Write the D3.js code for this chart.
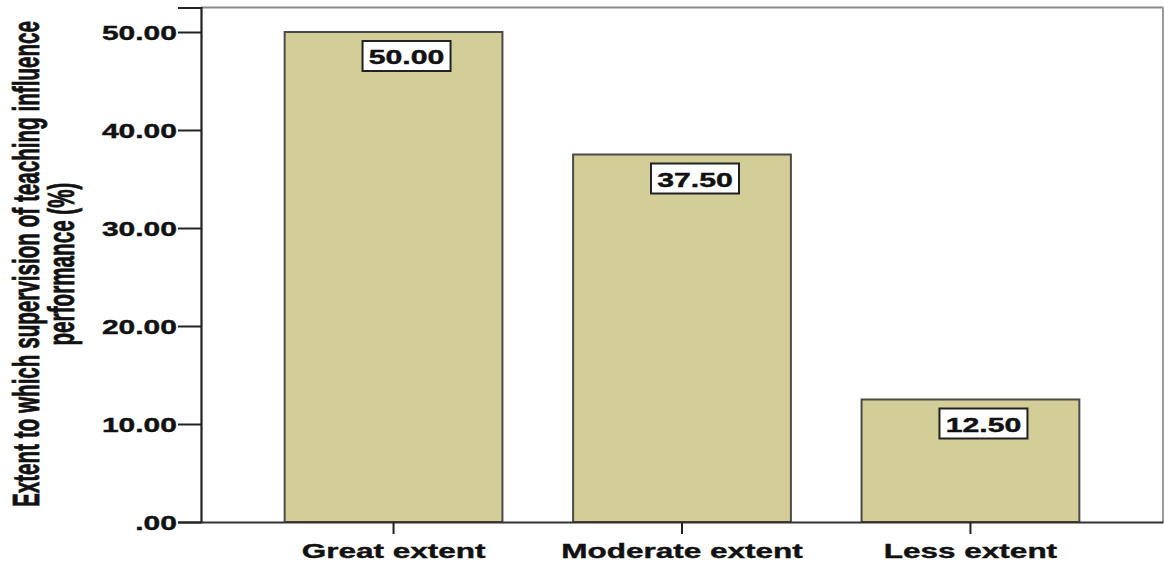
<!DOCTYPE html>
<html>
<head>
<meta charset="utf-8">
<script src="https://cdn.jsdelivr.net/npm/d3@7"></script>
<style>
  html, body { margin: 0; padding: 0; background: #fff; }
  svg { display: block; }
  text { font-family: "Liberation Sans", Arial, sans-serif; font-weight: bold; fill: #111; }
</style>
</head>
<body>
<svg id="chart" width="1164" height="561"></svg>
<script>
// ---- data ----
const categories = ["Great extent", "Moderate extent", "Less extent"];
const values = [50.00, 37.50, 12.50];
const yTicks = [0, 10, 20, 30, 40, 50];
const yTitleLines = ["Extent to which supervision of teaching influence", "performance (%)"];

// ---- layout ----
const W = 1164, H = 561;
const plot = { left: 201, right: 1163, top: 7.5, bottom: 522 };
const STRETCH = 1.5; // horizontal stretch of the reference rendering

const svg = d3.select("#chart");

const x = d3.scaleBand()
  .domain(categories)
  .range([plot.left, plot.right])
  .paddingInner(0.245)
  .paddingOuter(0.29);

const y = d3.scaleLinear().domain([0, 52.5]).range([plot.bottom, plot.top]);

const fmt = v => d3.format(".2f")(v).replace(/^0\./, ".");

function stretchText(sel, f) {
  sel.each(function () {
    const n = this.getComputedTextLength();
    d3.select(this).attr("textLength", n * f).attr("lengthAdjust", "spacingAndGlyphs");
  });
}

// frame (top and right in gray)
svg.append("line").attr("x1", plot.left).attr("x2", plot.right).attr("y1", plot.top).attr("y2", plot.top)
  .attr("stroke", "#8a8a8a").attr("stroke-width", 2);
svg.append("line").attr("x1", plot.right).attr("x2", plot.right).attr("y1", plot.top).attr("y2", plot.bottom)
  .attr("stroke", "#9a9a9a").attr("stroke-width", 2);

// bars
svg.append("g").selectAll("rect")
  .data(values)
  .join("rect")
  .attr("x", (d, i) => x(categories[i]))
  .attr("y", d => y(d))
  .attr("width", x.bandwidth())
  .attr("height", d => y(0) - y(d))
  .attr("fill", "#d3cd98")
  .attr("stroke", "#4a4a44")
  .attr("stroke-width", 2);

// y axis
const gy = svg.append("g")
  .attr("transform", `translate(${plot.left},0)`)
  .call(d3.axisLeft(y).tickValues(yTicks).tickFormat(fmt).tickSize(23).tickPadding(1));
gy.select(".domain").attr("stroke", "#222").attr("stroke-width", 2.2);
gy.selectAll(".tick line").attr("stroke", "#222").attr("stroke-width", 2);
gy.selectAll(".tick text")
  .attr("font-size", 20).attr("font-family", "Liberation Sans, Arial, sans-serif")
  .attr("font-weight", "bold").attr("fill", "#111").attr("dy", "0.36em")
  .attr("stroke", "#111").attr("stroke-width", 0.4)
  .call(stretchText, STRETCH);

// x axis
const gx = svg.append("g")
  .attr("transform", `translate(0,${plot.bottom})`)
  .call(d3.axisBottom(x).tickSize(12).tickPadding(20).tickSizeOuter(0));
gx.select(".domain").attr("stroke", "#333").attr("stroke-width", 2);
gx.selectAll(".tick line").attr("stroke", "#222").attr("stroke-width", 2);
gx.selectAll(".tick text")
  .attr("font-size", 21).attr("font-family", "Liberation Sans, Arial, sans-serif")
  .attr("font-weight", "bold").attr("fill", "#111").attr("dy", "0.2em")
  .attr("stroke", "#111").attr("stroke-width", 0.4)
  .call(stretchText, STRETCH);

// value labels in boxes
const labG = svg.append("g").selectAll("g")
  .data(values)
  .join("g")
  .attr("transform", (d, i) => `translate(${x(categories[i]) + x.bandwidth() / 2 + 13},${y(d) + 9})`);
labG.append("rect")
  .attr("x", -44).attr("y", 0).attr("width", 88).attr("height", 30)
  .attr("fill", "#fff").attr("stroke", "#222").attr("stroke-width", 2);
labG.append("text")
  .attr("x", 0).attr("y", 23)
  .attr("text-anchor", "middle")
  .attr("font-size", 19.5)
  .attr("stroke", "#111").attr("stroke-width", 0.4)
  .text(d => d3.format(".2f")(d))
  .call(stretchText, 1.55);

// y axis title (rotated, condensed: glyph height stretched by a scale)
const titleLengths = [486, 163];
const titleBaselines = [39, 74];
yTitleLines.forEach((t, i) => {
  svg.append("text")
    .attr("transform", `translate(${titleBaselines[i]},264) rotate(-90) scale(1,1.8)`)
    .attr("text-anchor", "middle")
    .attr("font-size", 20)
    .attr("stroke", "#111").attr("stroke-width", 0.45)
    .attr("textLength", titleLengths[i])
    .attr("lengthAdjust", "spacingAndGlyphs")
    .text(t);
});
</script>
</body>
</html>
